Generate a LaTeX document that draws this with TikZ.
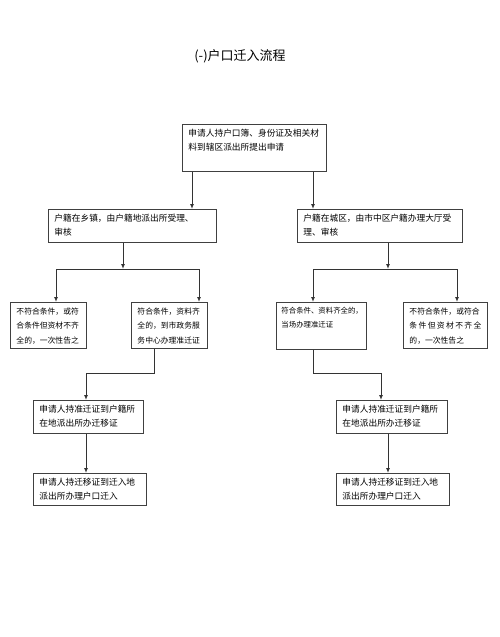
\documentclass[tikz,border=0pt]{standalone}
\usepackage{fontspec}
\newfontfamily\cjk{Noto Sans CJK SC}
\usetikzlibrary{arrows.meta}
\newcommand{\bt}[3]{\parbox[c][#2pt][t]{#1pt}{#3}}
\begin{document}
\begin{tikzpicture}[x=1pt,y=-1pt,
  box/.style={draw=black!75, line width=0.9pt, inner xsep=6pt, inner ysep=5pt, anchor=north west, font=\cjk\fontsize{8.7}{14}\selectfont},
  sbox/.style={box, font=\cjk\fontsize{7.8}{14.5}\selectfont},
  arr/.style={draw=black!80, line width=1pt, -{Latex[length=5pt,width=4pt]}},
  ln/.style={draw=black!80, line width=1pt}]
\useasboundingbox[fill=white] (0,0) rectangle (500,637);

\node[font=\cjk\fontsize{13}{13}\selectfont] (title) at (240,56) {(-)户口迁入流程};

\node[box] (top) at (182,124) {\bt{132}{37}{申请人持户口簿、身份证及相关材\\料到辖区派出所提出申请}};
\node[box] (L) at (48,209) {\bt{156}{23}{户籍在乡镇，由户籍地派出所受理、\\审核}};
\node[box] (R) at (297,209) {\bt{153}{23}{户籍在城区，由市中区户籍办理大厅受\\理、审核}};

\node[sbox] (B1) at (10,302) {\bt{64}{36}{不符合条件，或符\\合条件但资材不齐\\全的，一次性告之}};
\node[sbox] (B2) at (131,302) {\bt{64}{36}{符合条件，资料齐\\全的，到市政务服\\务中心办理准迁证}};
\node[sbox, inner xsep=5pt, font=\cjk\fontsize{7.4}{13.5}\selectfont] (B3) at (276,302) {\bt{80}{37}{符合条件、资料齐全的，\\当场办理准迁证}};
\node[sbox] (B4) at (403,302) {\bt{72}{36}{不符合条件，或符合\\\makebox[\linewidth][s]{条 件 但 资 材 不 齐 全}\\的，一次性告之}};

\node[box] (B5) at (33,400) {\bt{98}{23}{申请人持准迁证到户籍所\\在地派出所办迁移证}};
\node[box] (B6) at (33,473) {\bt{101}{22}{申请人持迁移证到迁入地\\派出所办理户口迁入}};
\node[box] (B7) at (336,400) {\bt{99}{23}{申请人持准迁证到户籍所\\在地派出所办迁移证}};
\node[box] (B8) at (336,473) {\bt{101}{22}{申请人持迁移证到迁入地\\派出所办理户口迁入}};

\coordinate (p1) at (192,0);
\coordinate (p2) at (313,0);
\draw[arr] (top.south -| p1) -- (L.north -| p1);
\draw[arr] (top.south -| p2) -- (R.north -| p2);

\coordinate (jl) at (123,269);
\coordinate (jr) at (388,269);
\draw[arr] (L.south -| jl) -- (jl);
\draw[arr] (R.south -| jr) -- (jr);

\coordinate (a1) at (56,269);
\coordinate (a2) at (199,269);
\coordinate (a3) at (313,269);
\coordinate (a4) at (457,269);
\draw[ln] (a1) -- (a2);
\draw[ln] (a3) -- (a4);
\draw[arr] (a1) -- (B1.north -| a1);
\draw[arr] (a2) -- (B2.north -| a2);
\draw[arr] (a3) -- (B3.north -| a3);
\draw[arr] (a4) -- (B4.north -| a4);

\coordinate (k2) at (154,373);
\coordinate (k5) at (86,373);
\coordinate (k3) at (313,373);
\coordinate (k7) at (381,373);
\draw[arr] (B2.south -| k2) -- (k2) -- (k5) -- (B5.north -| k5);
\draw[arr] (B3.south -| k3) -- (k3) -- (k7) -- (B7.north -| k7);

\coordinate (m6) at (86,0);
\coordinate (m8) at (388,0);
\draw[arr] (B5.south -| m6) -- (B6.north -| m6);
\draw[arr] (B7.south -| m8) -- (B8.north -| m8);
\end{tikzpicture}
\end{document}
